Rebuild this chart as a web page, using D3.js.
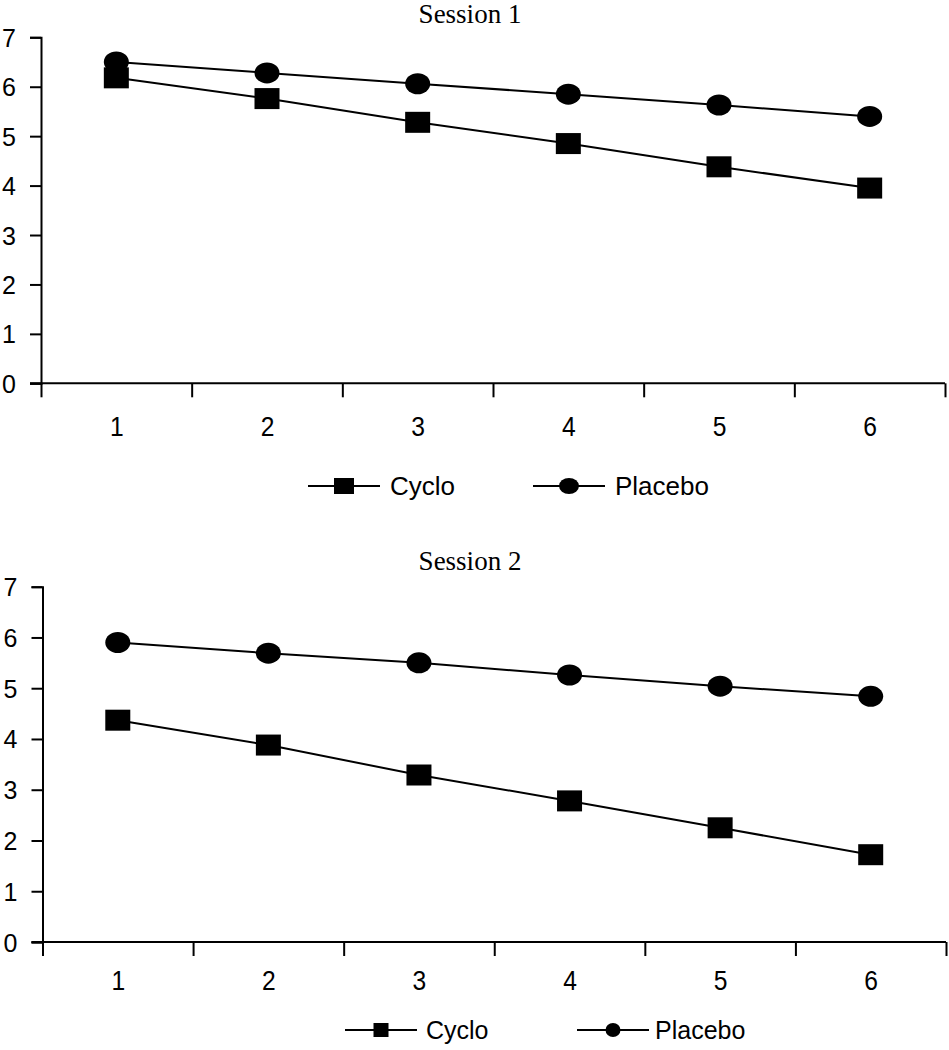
<!DOCTYPE html>
<html>
<head>
<meta charset="utf-8">
<script src="https://cdn.jsdelivr.net/npm/d3@7"></script>
<style>
  html, body { margin: 0; padding: 0; background: #fff; }
  svg { display: block; }
</style>
</head>
<body>
<svg id="chart" width="949" height="1050"></svg>
<script>
// ---- data ----
const trials = [1, 2, 3, 4, 5, 6];
const yTicks = [0, 1, 2, 3, 4, 5, 6, 7];
const seriesNames = ["Cyclo", "Placebo"];
const sessionTitles = ["Session 1", "Session 2"];
const session1Cyclo = [6.18, 5.76, 5.28, 4.85, 4.38, 3.95];
const session1Placebo = [6.50, 6.28, 6.06, 5.85, 5.63, 5.40];
const session2Cyclo = [4.37, 3.88, 3.29, 2.78, 2.25, 1.72];
const session2Placebo = [5.90, 5.69, 5.50, 5.26, 5.04, 4.84];

// ---- layout ----
const svg = d3.select("#chart");
const panels = [
  { title: sessionTitles[0], cyclo: session1Cyclo, placebo: session1Placebo,
    x0: 41, x1: 945, yTop: 37.3, yBot: 383.3, titleY: 23, labY: 436,
    legY: 486, legFont: 26, legMarkW: 20, legMarkH: 16,
    leg: { l1: 308, t1: 390, l2: 533, t2: 615, len: 72 },
    markW: 25, markH: 21 },
  { title: sessionTitles[1], cyclo: session2Cyclo, placebo: session2Placebo,
    x0: 42.5, x1: 946, yTop: 586.7, yBot: 942, titleY: 570, labY: 990,
    legY: 1030, legFont: 25, legMarkW: 15, legMarkH: 14,
    leg: { l1: 345, t1: 426, l2: 577, t2: 655, len: 72 },
    markW: 25, markH: 21 }
];

panels.forEach(p => {
  const g = svg.append("g");
  const x = d3.scaleLinear().domain([0.5, 6.5]).range([p.x0, p.x1]);
  const y = d3.scaleLinear().domain([0, 7]).range([p.yBot, p.yTop]);

  // title
  g.append("text")
    .attr("x", 470).attr("y", p.titleY)
    .attr("text-anchor", "middle")
    .attr("font-family", "'Liberation Serif', 'Times New Roman', serif")
    .attr("font-size", 27).attr("fill", "#000")
    .text(p.title);

  // y axis
  const ya = g.append("g").attr("transform", `translate(${p.x0},0)`)
    .call(d3.axisLeft(y).tickValues(yTicks).tickSize(11).tickPadding(14).tickFormat(d3.format("d")));
  ya.select(".domain").attr("stroke", "#000").attr("stroke-width", 2);
  ya.selectAll(".tick line").attr("stroke", "#000").attr("stroke-width", 2);
  ya.selectAll(".tick text")
    .attr("font-family", "'Liberation Sans', Arial, sans-serif")
    .attr("font-size", 25).attr("fill", "#000").attr("dy", "0.36em");

  // x axis: boundary ticks
  const bounds = d3.range(0, trials.length + 1).map(i => 0.5 + i);
  const xa = g.append("g").attr("transform", `translate(0,${p.yBot})`)
    .call(d3.axisBottom(x).tickValues(bounds).tickSize(14).tickFormat(""));
  xa.select(".domain").attr("stroke", "#000").attr("stroke-width", 2)
    .attr("d", `M${p.x0 - 11},0H${p.x1}`);
  xa.selectAll(".tick line").attr("stroke", "#000").attr("stroke-width", 2);

  // x axis: category labels
  const xl = g.append("g").attr("transform", `translate(0,${p.yBot})`)
    .call(d3.axisBottom(x).tickValues(trials).tickSize(0).tickFormat(d3.format("d")));
  xl.select(".domain").remove();
  xl.selectAll(".tick text")
    .attr("font-family", "'Liberation Sans', Arial, sans-serif")
    .attr("font-size", 28).attr("fill", "#000")
    .attr("y", 0).attr("dy", 0)
    .attr("transform", `translate(0,${p.labY - p.yBot}) scale(0.88,1)`);

  // lines
  const line = d3.line().x((d, i) => x(trials[i])).y(d => y(d));
  [p.cyclo, p.placebo].forEach(vals => {
    g.append("path").datum(vals).attr("d", line)
      .attr("fill", "none").attr("stroke", "#000").attr("stroke-width", 2);
  });

  // markers
  g.selectAll(null).data(p.cyclo).enter().append("rect")
    .attr("x", (d, i) => x(trials[i]) - p.markW / 2)
    .attr("y", d => y(d) - p.markH / 2)
    .attr("width", p.markW).attr("height", p.markH).attr("fill", "#000");
  g.selectAll(null).data(p.placebo).enter().append("ellipse")
    .attr("cx", (d, i) => x(trials[i]))
    .attr("cy", d => y(d))
    .attr("rx", p.markW / 2).attr("ry", p.markH / 2).attr("fill", "#000");

  // legend
  const L = p.leg;
  const lg = g.append("g");
  // Cyclo
  lg.append("line").attr("x1", L.l1).attr("x2", L.l1 + L.len)
    .attr("y1", p.legY).attr("y2", p.legY).attr("stroke", "#000").attr("stroke-width", 2);
  lg.append("rect").attr("x", L.l1 + L.len / 2 - p.legMarkW / 2).attr("y", p.legY - p.legMarkH / 2)
    .attr("width", p.legMarkW).attr("height", p.legMarkH).attr("fill", "#000");
  lg.append("text").attr("x", L.t1).attr("y", p.legY).attr("dy", "0.35em")
    .attr("font-family", "'Liberation Sans', Arial, sans-serif")
    .attr("font-size", p.legFont).attr("fill", "#000").text(seriesNames[0]);
  // Placebo
  lg.append("line").attr("x1", L.l2).attr("x2", L.l2 + L.len)
    .attr("y1", p.legY).attr("y2", p.legY).attr("stroke", "#000").attr("stroke-width", 2);
  lg.append("ellipse").attr("cx", L.l2 + L.len / 2).attr("cy", p.legY)
    .attr("rx", p.legMarkW / 2).attr("ry", p.legMarkH / 2).attr("fill", "#000");
  lg.append("text").attr("x", L.t2).attr("y", p.legY).attr("dy", "0.35em")
    .attr("font-family", "'Liberation Sans', Arial, sans-serif")
    .attr("font-size", p.legFont).attr("fill", "#000").text(seriesNames[1]);
});
</script>
</body>
</html>
